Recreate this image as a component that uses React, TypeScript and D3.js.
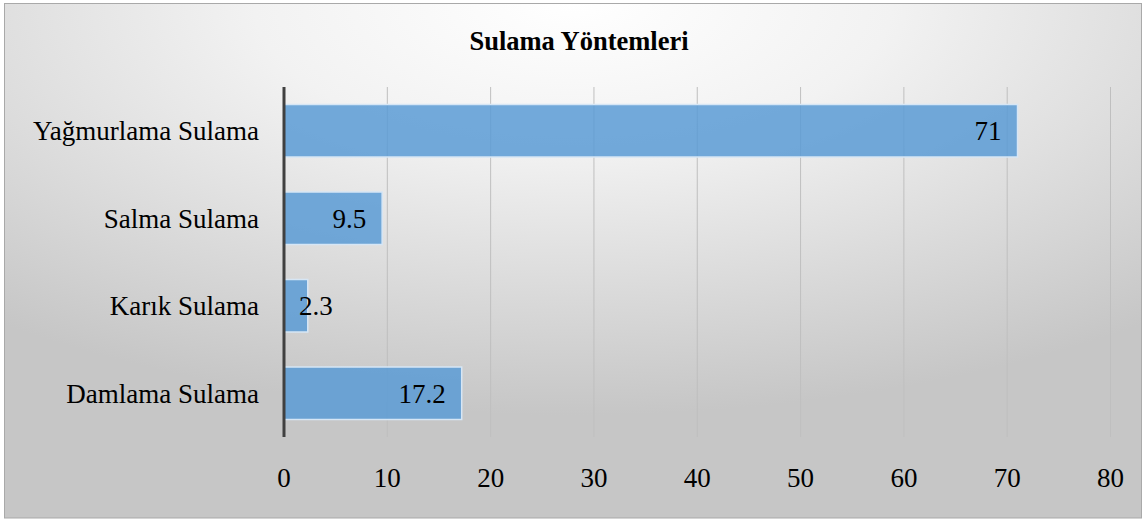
import React, { useEffect, useRef } from 'react';
import * as d3 from 'd3';

const categories = ['Yağmurlama Sulama', 'Salma Sulama', 'Karık Sulama', 'Damlama Sulama'];
const values = [71, 9.5, 2.3, 17.2];
const xTicks = [0, 10, 20, 30, 40, 50, 60, 70, 80];
const chartTitle = 'Sulama Yöntemleri';

const W = 1146;
const H = 522;
const FONT = '"Liberation Serif", "Times New Roman", serif';

function BarChart() {
  const svgRef = useRef<SVGSVGElement>(null);

  useEffect(() => {
    const root = d3.select(svgRef.current);
    root.selectAll('*').remove();

    // background gradient, white at the top centre
    const defs = root.append('defs');
    const grad = defs.append('radialGradient')
      .attr('id', 'bg')
      .attr('cx', '50%').attr('cy', '0%')
      .attr('r', '80%');
    grad.append('stop').attr('offset', '0%').attr('stop-color', '#ffffff');
    grad.append('stop').attr('offset', '35%').attr('stop-color', '#f2f2f2');
    grad.append('stop').attr('offset', '100%').attr('stop-color', '#c6c6c6');

    root.append('rect')
      .attr('x', 4.5).attr('y', 3.5)
      .attr('width', 1137).attr('height', 514.5)
      .attr('fill', 'url(#bg)')
      .attr('stroke', '#a9a9a9')
      .attr('stroke-width', 1);

    const x = d3.scaleLinear().domain([0, 80]).range([284, 1110.5]);
    const y = d3.scaleBand().domain(categories).range([87, 437]).paddingInner(0.4).paddingOuter(0.2);

    // title
    root.append('text')
      .attr('x', 579).attr('y', 50)
      .attr('text-anchor', 'middle')
      .style('font-family', FONT)
      .style('font-size', '26.5px')
      .style('font-weight', 'bold')
      .text(chartTitle);

    // grid lines
    root.append('g')
      .selectAll('line')
      .data(xTicks.filter(d => d > 0))
      .enter()
      .append('line')
      .attr('x1', d => x(d)).attr('x2', d => x(d))
      .attr('y1', 87).attr('y2', 437)
      .attr('stroke', '#bfbfbf')
      .attr('stroke-width', 1);

    // bars
    root.append('g')
      .selectAll('rect')
      .data(values)
      .enter()
      .append('rect')
      .attr('x', x(0))
      .attr('y', (d, i) => y(categories[i]) as number)
      .attr('width', d => x(d) - x(0))
      .attr('height', y.bandwidth())
      .attr('fill', '#5b9bd5')
      .attr('fill-opacity', 0.85)
      .attr('stroke', '#d6e6f5')
      .attr('stroke-width', 1.5);

    // value labels (inside end, pushed out when the bar is too short)
    const fits = (d: number) => x(d) - x(0) - 30 > String(d).length * 12;
    root.append('g')
      .selectAll('text')
      .data(values)
      .enter()
      .append('text')
      .attr('x', d => (fits(d) ? x(d) - 16 : x(0) + 15))
      .attr('y', (d, i) => (y(categories[i]) as number) + y.bandwidth() / 2)
      .attr('dy', '0.35em')
      .attr('text-anchor', d => (fits(d) ? 'end' : 'start'))
      .style('font-family', FONT)
      .style('font-size', '27px')
      .style('fill', '#000')
      .text(d => String(d));

    // category axis
    root.append('line')
      .attr('x1', x(0)).attr('x2', x(0))
      .attr('y1', 87).attr('y2', 437)
      .attr('stroke', '#404040')
      .attr('stroke-width', 3);

    root.append('g')
      .selectAll('text')
      .data(categories)
      .enter()
      .append('text')
      .attr('x', 259)
      .attr('y', d => (y(d) as number) + y.bandwidth() / 2)
      .attr('dy', '0.35em')
      .attr('text-anchor', 'end')
      .style('font-family', FONT)
      .style('font-size', '27px')
      .text(d => d);

    // value axis labels
    root.append('g')
      .selectAll('text')
      .data(xTicks)
      .enter()
      .append('text')
      .attr('x', d => x(d))
      .attr('y', 487)
      .attr('text-anchor', 'middle')
      .style('font-family', FONT)
      .style('font-size', '27px')
      .text(d => String(d));
  }, []);

  return <svg ref={svgRef} width={W} height={H} style={{ position: 'absolute', left: 0, top: 0, background: '#fff' }} />;
}

export default function App() {
  return <BarChart />;
}
